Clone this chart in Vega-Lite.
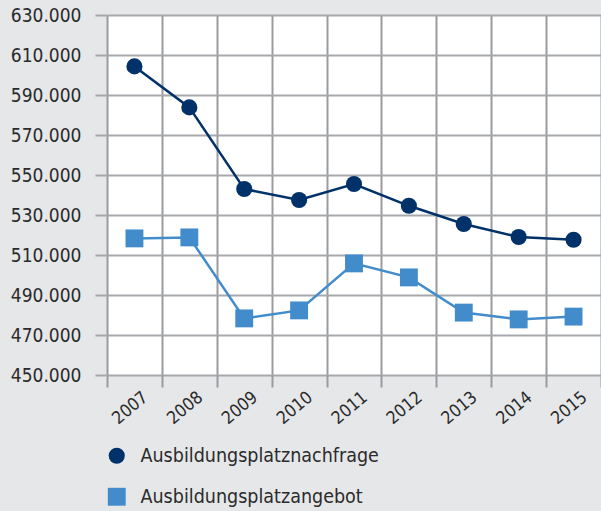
{
  "$schema": "https://vega.github.io/schema/vega-lite/v6.json",
  "autosize": "none",
  "width": 494,
  "height": 360,
  "padding": {"left": 107, "top": 15, "right": 0, "bottom": 136},
  "background": "#e6e7e9",
  "config": {
    "locale": {"number": {"decimal": ",", "thousands": ".", "grouping": [3], "currency": ["", " €"]}},
    "view": {"fill": "#ffffff", "stroke": null},
    "font": "DejaVu Sans Condensed, Liberation Sans Narrow, Open Sans"
  },
  "data": {
    "values": [
      {"jahr": "2007", "serie": "Ausbildungsplatznachfrage", "wert": 604300},
      {"jahr": "2008", "serie": "Ausbildungsplatznachfrage", "wert": 583800},
      {"jahr": "2009", "serie": "Ausbildungsplatznachfrage", "wert": 543000},
      {"jahr": "2010", "serie": "Ausbildungsplatznachfrage", "wert": 537500},
      {"jahr": "2011", "serie": "Ausbildungsplatznachfrage", "wert": 545500},
      {"jahr": "2012", "serie": "Ausbildungsplatznachfrage", "wert": 534600},
      {"jahr": "2013", "serie": "Ausbildungsplatznachfrage", "wert": 525500},
      {"jahr": "2014", "serie": "Ausbildungsplatznachfrage", "wert": 519000},
      {"jahr": "2015", "serie": "Ausbildungsplatznachfrage", "wert": 517600},
      {"jahr": "2007", "serie": "Ausbildungsplatzangebot", "wert": 518300},
      {"jahr": "2008", "serie": "Ausbildungsplatzangebot", "wert": 518800},
      {"jahr": "2009", "serie": "Ausbildungsplatzangebot", "wert": 478300},
      {"jahr": "2010", "serie": "Ausbildungsplatzangebot", "wert": 482300},
      {"jahr": "2011", "serie": "Ausbildungsplatzangebot", "wert": 505800},
      {"jahr": "2012", "serie": "Ausbildungsplatzangebot", "wert": 498800},
      {"jahr": "2013", "serie": "Ausbildungsplatzangebot", "wert": 481200},
      {"jahr": "2014", "serie": "Ausbildungsplatzangebot", "wert": 477800},
      {"jahr": "2015", "serie": "Ausbildungsplatzangebot", "wert": 479200}
    ]
  },
  "encoding": {
    "x": {
      "field": "jahr", "type": "ordinal",
      "scale": {"type": "band", "paddingInner": 0, "paddingOuter": 0},
      "axis": {
        "title": null, "domain": false, "grid": true, "tickBand": "extent",
        "gridColor": "#9a9b9f", "gridWidth": 2, "gridOpacity": 1,
        "ticks": true, "tickSize": 12, "tickColor": "#9a9b9f", "tickWidth": 2,
        "labelAngle": -40, "labelFontSize": 17.5, "labelColor": "#2b2b2b", "labelPadding": 1, "labelOffset": 5
      }
    },
    "y": {
      "field": "wert", "type": "quantitative",
      "scale": {"domain": [450000, 630000], "nice": false, "zero": false},
      "axis": {
        "title": null, "domain": false, "grid": true,
        "values": [450000, 470000, 490000, 510000, 530000, 550000, 570000, 590000, 610000, 630000],
        "format": ",d",
        "gridColor": "#a6a8ab", "gridWidth": 2, "gridOpacity": 1,
        "ticks": true, "tickSize": 12, "tickColor": "#a6a8ab", "tickWidth": 2,
        "labelFontSize": 19, "labelColor": "#2b2b2b", "labelPadding": 14
      }
    }
  },
  "layer": [
    {
      "transform": [{"filter": "datum.serie === 'Ausbildungsplatznachfrage'"}],
      "mark": {"type": "line", "strokeWidth": 2.5, "color": "#003168"},
      "encoding": {}
    },
    {
      "transform": [{"filter": "datum.serie === 'Ausbildungsplatzangebot'"}],
      "mark": {"type": "line", "strokeWidth": 2.5, "color": "#428ccb"},
      "encoding": {}
    },
    {
      "mark": {"type": "point", "filled": true, "opacity": 1, "strokeWidth": 0},
      "encoding": {
        "color": {"field": "serie", "type": "nominal",
          "scale": {"domain": ["Ausbildungsplatznachfrage", "Ausbildungsplatzangebot"], "range": ["#003168", "#428ccb"]},
          "legend": {"title": null, "orient": "none", "legendX": 0, "legendY": 431, "padding": 0,
            "labelFontSize": 19.5, "labelColor": "#2b2b2b", "labelOffset": 14,
            "rowPadding": 20, "symbolOpacity": 1, "symbolStrokeWidth": 0, "labelLimit": 400}},
        "shape": {"field": "serie", "type": "nominal",
          "scale": {"domain": ["Ausbildungsplatznachfrage", "Ausbildungsplatzangebot"], "range": ["circle", "square"]},
          "legend": {"title": null, "orient": "none", "legendX": 0, "legendY": 431, "padding": 0,
            "labelFontSize": 19.5, "labelColor": "#2b2b2b", "labelOffset": 14,
            "rowPadding": 20, "symbolOpacity": 1, "symbolStrokeWidth": 0, "labelLimit": 400}},
        "size": {"field": "serie", "type": "nominal",
          "scale": {"domain": ["Ausbildungsplatznachfrage", "Ausbildungsplatzangebot"], "range": [260, 320]},
          "legend": {"title": null, "orient": "none", "legendX": 0, "legendY": 431, "padding": 0,
            "labelFontSize": 19.5, "labelColor": "#2b2b2b", "labelOffset": 14,
            "rowPadding": 20, "symbolOpacity": 1, "symbolStrokeWidth": 0, "labelLimit": 400}}
      }
    }
  ]
}
